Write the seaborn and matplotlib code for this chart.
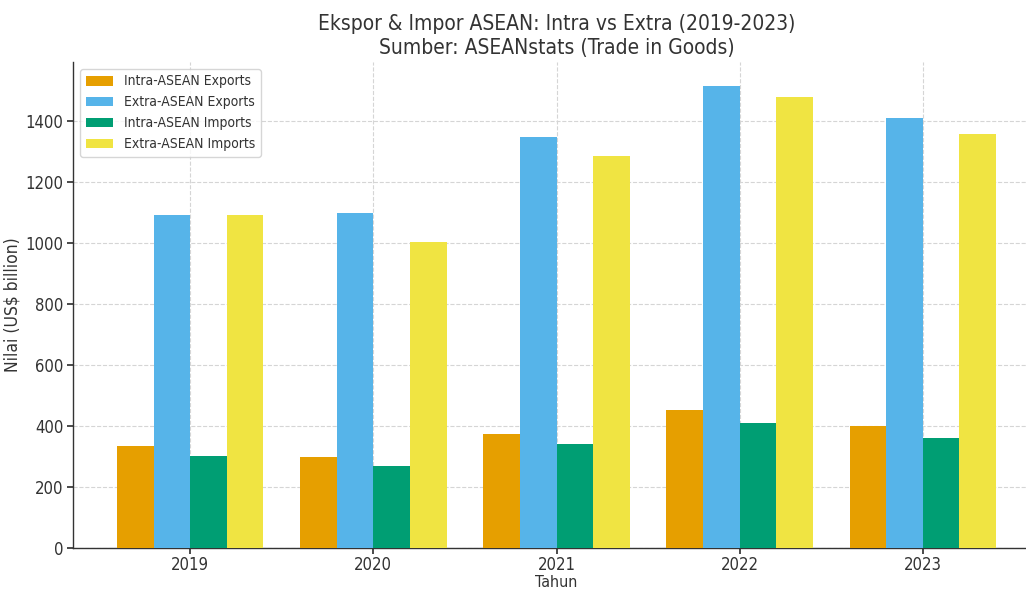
import matplotlib
matplotlib.use("Agg")
import matplotlib.pyplot as plt
import seaborn as sns
import pandas as pd
from matplotlib import font_manager as fm

years = ["2019", "2020", "2021", "2022", "2023"]
series = ["Intra-ASEAN Exports", "Extra-ASEAN Exports", "Intra-ASEAN Imports", "Extra-ASEAN Imports"]
intra_exports = [333, 298, 374, 452, 400]
extra_exports = [1092, 1098, 1348, 1515, 1410]
intra_imports = [300, 269, 341, 410, 360]
extra_imports = [1092, 1003, 1285, 1479, 1357]
colors = ["#E69F00", "#56B4E9", "#009E73", "#F0E442"]

values = [intra_exports, extra_exports, intra_imports, extra_imports]
rows = []
for s, vals in zip(series, values):
    for y, v in zip(years, vals):
        rows.append({"Tahun": y, "Nilai": v, "Series": s})
df = pd.DataFrame(rows)

sns.set_theme(style="whitegrid")
names = {f.name for f in fm.fontManager.ttflist}
fam = "DejaVu Sans Condensed" if "DejaVu Sans Condensed" in names else "DejaVu Sans"
plt.rcParams["font.family"] = [fam, "DejaVu Sans"]
plt.rcParams["font.stretch"] = "condensed"
text_color = "#333333"

fig = plt.figure(figsize=(10.26, 5.9), dpi=100)
ax = fig.add_axes([73/1026, 42/590, 967/1026, 486/590])

sns.barplot(data=df, x="Tahun", y="Nilai", hue="Series", hue_order=series,
            palette=colors, width=0.8, ax=ax, saturation=1, errorbar=None,
            linewidth=0, zorder=3)

ax.set_xlim(-0.64, 4.64)
ax.set_ylim(0, 1593)
ax.grid(True, linestyle="--", color="#d5d5d5", linewidth=0.8, zorder=0)
ax.set_axisbelow(True)
for sp in ["top", "right"]:
    ax.spines[sp].set_visible(False)
for sp in ["left", "bottom"]:
    ax.spines[sp].set_color("#333333")
    ax.spines[sp].set_linewidth(1.0)
ax.tick_params(axis="both", which="both", length=4, pad=3, color="#333333", labelsize=12,
               labelcolor=text_color, left=True, bottom=True)
ax.tick_params(axis="x", pad=1.5)

ax.set_title("Ekspor & Impor ASEAN: Intra vs Extra (2019-2023)\nSumber: ASEANstats (Trade in Goods)",
             fontsize=15, color=text_color, pad=6)
ax.set_xlabel("Tahun", fontsize=11.5, color=text_color, labelpad=1)
ax.set_ylabel("Nilai (US$ billion)", fontsize=12.5, color=text_color, labelpad=3)

leg = ax.legend(loc="upper left", fontsize=10, frameon=True, title=None)
leg.get_frame().set_edgecolor("#cccccc")
for t in leg.get_texts():
    t.set_color(text_color)

fig.savefig("out.png", dpi=100)
